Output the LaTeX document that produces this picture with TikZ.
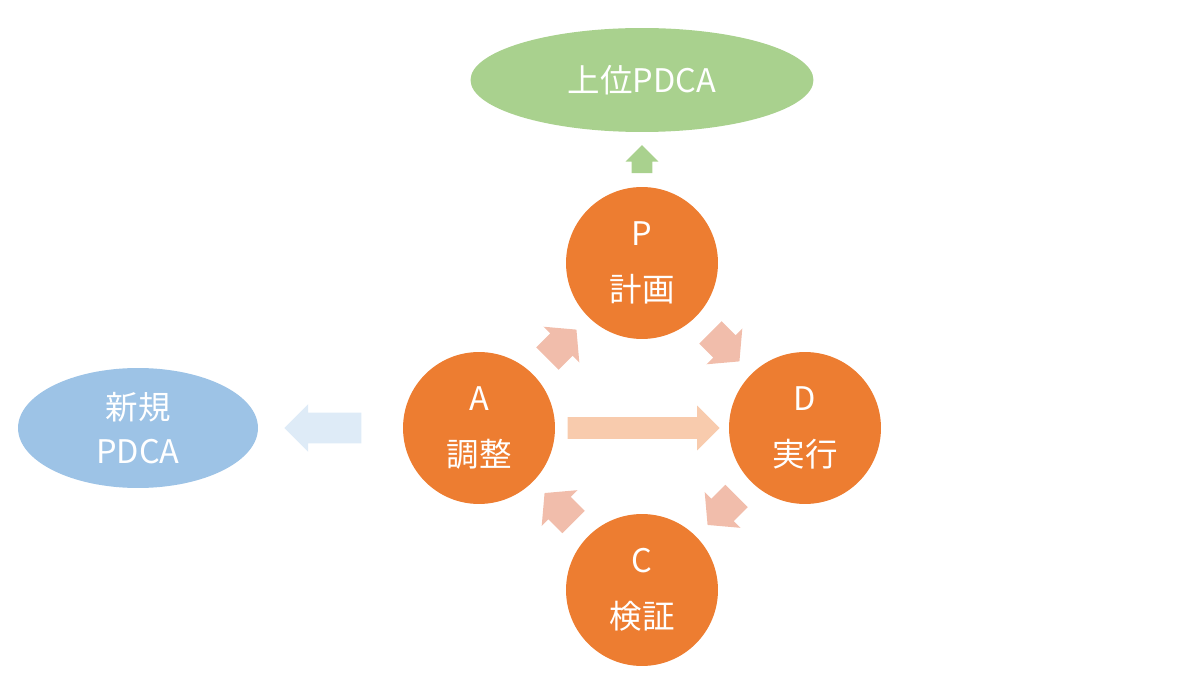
\documentclass[tikz,border=0pt]{standalone}
\usepackage{fontspec}
\setmainfont{Noto Sans CJK JP}
\usepackage{tikz}
\usetikzlibrary{calc,shapes.geometric,shapes.arrows}
\definecolor{stageorange}{RGB}{237,125,49}
\definecolor{upgreen}{RGB}{169,209,142}
\definecolor{newblue}{RGB}{157,195,230}
\definecolor{newarrow}{RGB}{222,235,247}
\definecolor{cyclepink}{RGB}{241,189,171}
\definecolor{jumppeach}{RGB}{248,203,173}
\begin{document}
\begin{tikzpicture}[x=0.02cm,y=-0.02cm]
\tikzstyle{stage}=[circle,fill=stageorange,minimum size=3.04cm,inner sep=0pt,text=white,align=center,font=\fontsize{18.5}{32}\selectfont]
\tikzstyle{goal}=[ellipse,inner sep=0pt,text=white,align=center,font=\fontsize{18.5}{25}\selectfont]
\tikzstyle{block}=[single arrow,inner xsep=0pt,outer sep=0pt,text height=0pt,text depth=0pt,single arrow head indent=0pt]
\useasboundingbox (0,0) rectangle (1200,675);
\foreach \name/\point/\letter/\word in {
	P/{642,263}/P/計画,
	D/{805,428}/D/実行,
	C/{642,590}/C/検証,
	A/{479,428}/A/調整}
	\node[stage] (\name) at (\point) {\letter\\\word};
\node[goal,fill=upgreen,minimum width=6.86cm,minimum height=2.08cm] (upper) at (642,80) {上位PDCA};
\node[goal,fill=newblue,minimum width=4.8cm,minimum height=2.4cm] (new) at (138,428) {新規\\PDCA};
% cycle arrows
\node[block,fill=cyclepink,minimum height=0.82cm,inner ysep=0.31cm,single arrow head extend=0.19cm,single arrow tip angle=100,rotate=45] (AP) at ($(A)!0.48!(P)$) {};
\node[block,fill=cyclepink,minimum height=0.82cm,inner ysep=0.31cm,single arrow head extend=0.19cm,single arrow tip angle=100,rotate=-45] (PD) at ($(P)!0.48!(D)$) {};
\node[block,fill=cyclepink,minimum height=0.82cm,inner ysep=0.31cm,single arrow head extend=0.19cm,single arrow tip angle=100,rotate=-135] (DC) at ($(D)!0.48!(C)$) {};
\node[block,fill=cyclepink,minimum height=0.82cm,inner ysep=0.31cm,single arrow head extend=0.19cm,single arrow tip angle=100,rotate=135] (CA) at ($(C)!0.48!(A)$) {};
\node[block,fill=jumppeach,minimum height=3.04cm,inner ysep=0.21cm,single arrow head extend=0.23cm] (AD) at ($(A)!0.488!(D)$) {};
% outgoing arrows
\node[block,fill=upgreen,minimum height=0.56cm,inner ysep=0.2cm,single arrow head extend=0.12cm,rotate=90] (Pup) at ($(P.north)!0.41!(upper.south)$) {};
\node[block,fill=newarrow,minimum height=1.54cm,inner ysep=0.3cm,single arrow head extend=0.17cm,rotate=180] (Anew) at ($(new.east)!0.5!(A.west)$) {};
\end{tikzpicture}
\end{document}
